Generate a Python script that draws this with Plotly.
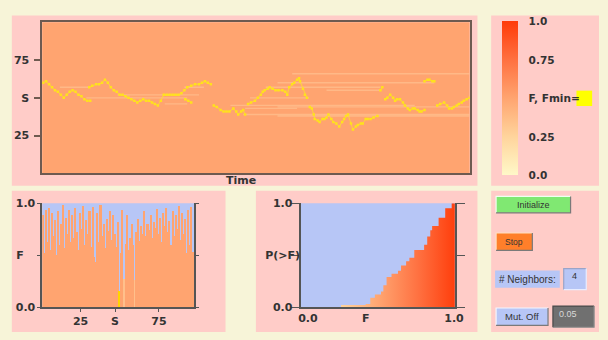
import plotly.graph_objects as go

W, H = 608, 340

# ---------------- data ----------------
# activity trail of the minimum-fitness site (time step, site index); None = jump
trail_t = [1, 4, 7, 10, 13, 16, 19, 22, 25, 28, 31, 34, 37, 40, 43, 46, 49, None,
           48, 51, 55, 58, 61, 64, 67, 70, 73, 76, 79, 82, 85, 88, 91, 94, 97, 100, 103, 106,
           109, 112, 115, 118, 121, 124, 127, 130, 133, 136, 139, 142, 145, 148, 152, 156, 160,
           163, 166, 169, 172, None,
           146, 149, 152, None,
           175, 178, 182, 185, 188, 191, 195, 198, 200, 203, 205, 207, None,
           210, 213, 217, 220, 223, 225, 227, 230, 232, 235, 238, 241, 245, 248, 250, 252, 255,
           257, 260, 262, 263, 266, 268, 270, None,
           273, 275, 277, 278, 281, 283, 286, 288, 290, 292, 295, 297, 300, 303, 306, 308, 310,
           312, 315, 317, 320, 322, 325, 327, 330, 332, 335, 338, 342, None,
           345, 347, None,
           350, 352, 355, 358, 360, 362, 365, 368, 370, 373, 375, 378, 380, 383, 385, 387, 390, None,
           390, 393, 395, 398, 400, None,
           403, 406, 410, 413, 415, 418, 420, 423, 425, 428, 430, 433, 436]
trail_s = [60, 61, 59, 57, 55, 54, 52, 50, 52, 54, 55, 54, 52, 51, 49, 48, 48, None,
           57, 58, 59, 59, 60, 62, 60, 57, 55, 54, 52, 52, 51, 50, 49, 48, 47, 48, 49, 48,
           48, 47, 46, 45, 48, 52, 52, 52, 52, 52, 52, 53, 55, 57, 58, 59, 59,
           60, 61, 60, 59, None,
           49, 48, 47, None,
           45, 44, 42, 41, 41, 41, 43, 41, 39, 41, 42, 39, None,
           46, 47, 48, 50, 52, 54, 55, 56, 57, 56, 55, 55, 55, 54, 52, 57, 59,
           60, 62, 63, 61, 56, 52, 50, None,
           44, 43, 39, 36, 35, 34, 36, 36, 37, 39, 36, 34, 33, 31, 34, 36, 38,
           39, 33, 29, 31, 32, 33, 33, 36, 36, 36, 37, 38, None,
           55, 57, None,
           49, 50, 52, 50, 48, 49, 49, 47, 45, 43, 42, 43, 43, 42, 41, 41, 42, None,
           61, 62, 62, 61, 61, None,
           45, 46, 47, 45, 43, 43, 44, 45, 46, 47, 48, 49, 50]

# lighter fitness streaks (site, first time step, last time step)
streak_site = [57, 50, 46, 57, 66, 57, 50, 45, 39, 60, 55, 44, 38, 52, 43]
streak_t0 = [18, 45, 125, 145, 255, 228, 212, 192, 205, 240, 290, 240, 240, 77, 207]
streak_t1 = [48, 148, 148, 165, 436, 345, 272, 380, 436, 400, 345, 436, 436, 160, 260]

# fitness F of each site
sites = list(range(1, 98))
site_F = [0.88, 0.52, 0.93, 0.62, 0.95, 0.55, 0.90, 0.68, 0.84, 0.50,
          0.92, 0.60, 0.80, 0.98, 0.57, 0.86, 0.70, 0.93, 0.62, 0.88,
          0.66, 0.95, 0.72, 0.55, 0.90, 0.75, 0.97, 0.60, 0.84, 0.70,
          0.92, 0.58, 0.96, 0.48, 0.43, 0.90, 0.62, 0.98, 0.68, 0.80,
          0.57, 0.85, 0.73, 0.92, 0.64, 0.88, 0.70, 0.58, 0.82, 0.15,
          0.52, 0.93, 0.27, 0.61, 0.88, 0.55, 0.66, 0.80, 0.60, 0.26,
          0.72, 0.85, 0.63, 0.78, 0.70, 0.92, 0.68, 0.80, 0.74, 0.88,
          0.66, 0.82, 0.76, 0.94, 0.70, 0.86, 0.62, 0.90, 0.78, 0.95,
          0.72, 0.83, 0.60, 0.92, 0.68, 0.88, 0.75, 0.97, 0.64, 0.90,
          0.70, 0.85, 0.52, 0.93, 0.60, 0.96, 0.53]
fmin_site = 50
updated_sites = [53, 60]

# distribution P(>F), staircase
cdf_F = [0.0, 0.26, 0.42, 0.45, 0.48, 0.52, 0.535, 0.556, 0.588, 0.63, 0.65, 0.683,
         0.704, 0.736, 0.80, 0.82, 0.84, 0.852, 0.894, 0.937, 0.979, 1.0]
cdf_P = [0.0, 0.02, 0.03, 0.09, 0.12, 0.15, 0.21, 0.29, 0.32, 0.35, 0.40, 0.44,
         0.475, 0.55, 0.60, 0.68, 0.74, 0.78, 0.86, 0.95, 1.0, 1.0]

# tick labels
top_y_vals, top_y_text = [25, 50, 75], ["25", "S", "75"]
bar_x_vals, bar_x_text = [25, 47, 75], ["25", "S", "75"]
bar_y_vals, bar_y_text = [0, 0.5, 1], ["0.0", "F\u00a0\u00a0\u00a0", "1.0"]
cdf_x_vals, cdf_x_text = [0.045, 0.42, 0.994], ["0.0", "F", "1.0"]
cdf_y_vals, cdf_y_text = [0, 0.5, 1], ["0.0\u00a0\u00a0", "P(>F)", "1.0\u00a0\u00a0"]
cbar_vals = [0, 0.25, 0.5, 0.75, 1]
cbar_text = ["0.0", "0.25", "F, Fmin=", "0.75", "1.0"]

# ---------------- style ----------------
CREAM = "#F7F4D8"
PINK = "#FFCCC8"
ORANGE = "#FFA470"
BLUE = "#B7C6F6"
DARK = "#333333"
BORDER = "#6E5A50"
AXC = "#555555"
FONT = "DejaVu Sans"
cs = [[0, "#FFF8C8"], [0.25, "#FFD49C"], [0.5, "#FFA470"], [0.75, "#FF7040"], [1, "#FF3A08"]]
tickfont = dict(family=FONT, size=11, color=DARK, weight="bold")
cbarfont = dict(family=FONT, size=10.5, color=DARK, weight="bold")


def fx(px):
    return px / W


def fy(py):
    return 1 - py / H


fig = go.Figure()

# streaks
sx, sy = [], []
for s, a, b in zip(streak_site, streak_t0, streak_t1):
    sx += [a, b, None]
    sy += [s, s, None]
fig.add_trace(go.Scatter(x=sx, y=sy, mode="lines", xaxis="x", yaxis="y",
                         line=dict(color="rgba(255,210,165,0.45)", width=1.4),
                         hoverinfo="skip", showlegend=False))
# trail
fig.add_trace(go.Scatter(x=trail_t, y=trail_s, mode="lines+markers", xaxis="x", yaxis="y",
                         line=dict(color="rgba(255,228,40,0.75)", width=1),
                         marker=dict(color="#FFE21C", size=2.5, symbol="square"),
                         connectgaps=False, hoverinfo="skip", showlegend=False))
# colorbar holder
fig.add_trace(go.Scatter(x=[None], y=[None], mode="markers", xaxis="x", yaxis="y",
                         marker=dict(color=[0.5], cmin=0, cmax=1, colorscale=cs, showscale=True,
                                     colorbar=dict(thickness=16, thicknessmode="pixels",
                                                   len=154, lenmode="pixels",
                                                   x=fx(509), xanchor="left", y=fy(96), yanchor="middle",
                                                   xpad=0, ypad=0, outlinewidth=0,
                                                   ticks="outside", ticklen=9,
                                                   tickcolor="rgba(0,0,0,0)",
                                                   tickvals=cbar_vals, ticktext=cbar_text,
                                                   tickfont=cbarfont)),
                         showlegend=False, hoverinfo="skip"))

# bars
bar_colors = []
for s in sites:
    if s == fmin_site:
        bar_colors.append("#FFD400")
    elif s in updated_sites:
        bar_colors.append("#FFC08C")
    else:
        bar_colors.append(ORANGE)
fig.add_trace(go.Bar(x=sites, y=site_F, width=1, xaxis="x2", yaxis="y2",
                     marker=dict(color=bar_colors, line=dict(width=0)),
                     hoverinfo="skip", showlegend=False))

# cumulative staircase
fig.add_trace(go.Scatter(x=cdf_F, y=cdf_P, mode="lines", xaxis="x3", yaxis="y3",
                         line=dict(width=0, shape="hv"), fill="tozeroy",
                         fillgradient=dict(type="horizontal", colorscale=cs, start=0, stop=1),
                         hoverinfo="skip", showlegend=False))

shapes = []


def rect(x0, y0, x1, y1, fill, line=None, lw=0):
    shapes.append(dict(type="rect", xref="paper", yref="paper", layer="below",
                       x0=fx(x0), x1=fx(x1), y0=fy(y1), y1=fy(y0), fillcolor=fill,
                       line=dict(width=lw, color=line or fill)))


def bevel(x0, y0, x1, y1, light, dark, lw=1.2):
    shapes.append(dict(type="path", xref="paper", yref="paper", layer="above",
                       path=f"M{fx(x0)},{fy(y1)} L{fx(x0)},{fy(y0)} L{fx(x1)},{fy(y0)}",
                       line=dict(color=light, width=lw)))
    shapes.append(dict(type="path", xref="paper", yref="paper", layer="above",
                       path=f"M{fx(x0)},{fy(y1)} L{fx(x1)},{fy(y1)} L{fx(x1)},{fy(y0)}",
                       line=dict(color=dark, width=lw)))


# panels
rect(9, 10, 484, 187, PINK)
rect(498, 10, 608, 187, PINK)
rect(9, 192, 227, 339, PINK)
rect(258, 192, 484, 339, PINK)
rect(498, 192, 608, 339, PINK)
# plot backgrounds
rect(40, 17, 476, 174, ORANGE)
rect(40, 205, 195, 313, BLUE)
rect(304, 205, 461, 313, BLUE)
# Fmin swatch
rect(585, 88, 601, 104, "#FFFF00")

annotations = []


def label(px, py, text, size=9, color=DARK, xanchor="center", bold=False, family="Liberation Sans"):
    annotations.append(dict(x=fx(px), y=fy(py), xref="paper", yref="paper", text=text,
                            showarrow=False, xanchor=xanchor, yanchor="middle",
                            font=dict(family=family, size=size, color=color,
                                      weight="bold" if bold else "normal")))


# controls
rect(503, 198, 579, 215, "#80E872")
bevel(503, 198, 579, 215, "#F0FFF0", "#7A7A7A")
label(541, 206.5, "Initialize", 9)
rect(503, 236, 540, 254, "#FF7F2A")
bevel(503, 236, 540, 254, "#FFE0C0", "#7A7A7A")
label(521.5, 245, "Stop", 8.5)
rect(502, 275, 568, 293, BLUE)
label(535, 284, "# Neighbors:", 10)
rect(572, 273, 595, 295, BLUE)
bevel(572, 273, 595, 295, "#9AA4C8", "#E8ECFF")
label(578, 281, "4", 9, xanchor="left")
rect(503, 314, 556, 332, BLUE)
bevel(503, 314, 556, 332, "#F4F6FF", "#7A7A7A")
label(529.5, 323, "Mut. Off", 9.5)
rect(561, 312, 603, 334, "#707070")
bevel(561, 312, 603, 334, "#4A4A4A", "#8C8C8C")
label(565, 320, "0.05", 9, color="#D8D8D8", xanchor="left")

# axis title
label(243, 181, "Time", 11, bold=True, family=FONT)

common = dict(showgrid=False, zeroline=False, fixedrange=True)
fig.update_layout(
    width=W, height=H, autosize=False,
    margin=dict(l=0, r=0, t=0, b=0, pad=0),
    paper_bgcolor=CREAM, plot_bgcolor="rgba(0,0,0,0)",
    showlegend=False, bargap=0,
    shapes=shapes, annotations=annotations,
    xaxis=dict(domain=[fx(40), fx(476)], range=[0, 436], anchor="y",
               showticklabels=False, ticks="", showline=True, mirror=True,
               linecolor=BORDER, linewidth=1.5, **common),
    yaxis=dict(domain=[fy(174), fy(17)], range=[0, 100], anchor="x",
               tickvals=top_y_vals, ticktext=top_y_text, ticks="outside", ticklen=6,
               tickcolor=BORDER, tickwidth=1.5, tickfont=tickfont, ticklabelstandoff=3,
               showline=True, mirror=True, linecolor=BORDER, linewidth=1.5, **common),
    xaxis2=dict(domain=[fx(40), fx(195)], range=[0.5, 97.5], anchor="y2",
                tickvals=bar_x_vals, ticktext=bar_x_text, ticks="outside", ticklen=3,
                tickcolor=AXC, tickfont=tickfont, showline=True, linecolor=AXC,
                linewidth=1.5, **common),
    yaxis2=dict(domain=[fy(313), fy(205)], range=[0, 1], anchor="x2",
                tickvals=bar_y_vals, ticktext=bar_y_text, ticks="outside", ticklen=3,
                tickcolor=AXC, tickfont=tickfont, showline=True, mirror="ticks",
                linecolor=AXC, linewidth=1.5, **common),
    xaxis3=dict(domain=[fx(304), fx(461)], range=[0, 1], anchor="y3",
                tickvals=cdf_x_vals, ticktext=cdf_x_text, ticks="",
                tickfont=tickfont, showline=True, linecolor=AXC, linewidth=1.5, **common),
    yaxis3=dict(domain=[fy(313), fy(205)], range=[0, 1], anchor="x3",
                tickvals=cdf_y_vals, ticktext=cdf_y_text, ticks="outside", ticklen=8,
                tickcolor=AXC, tickfont=tickfont, showline=True, mirror="ticks",
                linecolor=AXC, linewidth=1.5, ticklabelstandoff=-11, **common),
)

fig.write_html("out.html", config={"displayModeBar": False},
               post_script="document.body.style.margin='0';document.body.style.overflow='hidden';")
